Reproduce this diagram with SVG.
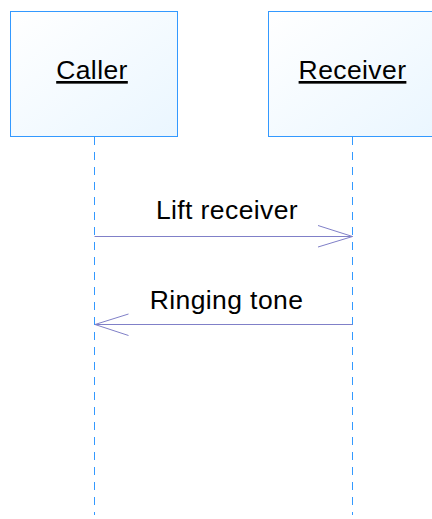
<svg xmlns="http://www.w3.org/2000/svg" width="432" height="519" viewBox="0 0 432 519">
  <style>
    .box { stroke: #3399ff; stroke-width: 1; fill: url(#boxfill); }
    .life { stroke: #3399ff; stroke-width: 1; stroke-dasharray: 8 7; fill: none; }
    .msg { stroke: #8080c8; stroke-width: 1; fill: none; }
    .label { font-family: "Liberation Sans", Arial, sans-serif; font-size: 26.5px; fill: #000; text-anchor: middle; letter-spacing: 0.4px; }
    .name { text-decoration: underline; }
  </style>
  <defs>
    <linearGradient id="boxfill" x1="0" y1="0" x2="1" y2="1">
      <stop offset="0" stop-color="#ffffff"/>
      <stop offset="1" stop-color="#eaf6ff"/>
    </linearGradient>
  </defs>

  <g id="caller">
    <rect class="box" x="10.5" y="11.5" width="167" height="125"/>
    <text class="label name" x="92" y="79">Caller</text>
    <line class="life" x1="94.5" y1="137" x2="94.5" y2="515"/>
  </g>

  <g id="receiver">
    <rect class="box" x="268.5" y="11.5" width="170" height="125"/>
    <text class="label name" x="352.5" y="79">Receiver</text>
    <line class="life" x1="352.5" y1="137" x2="352.5" y2="515"/>
  </g>

  <g id="connectors">
    <g id="lift-receiver">
      <line class="msg" x1="94.5" y1="236.5" x2="352.5" y2="236.5"/>
      <polyline class="msg" points="318,225.5 352.5,236.5 318,247"/>
      <text class="label" x="227" y="219">Lift receiver</text>
    </g>
    <g id="ringing-tone">
      <line class="msg" x1="352.5" y1="324.5" x2="95" y2="324.5"/>
      <polyline class="msg" points="128.5,314 95,324.5 128.5,335.5"/>
      <text class="label" x="226.5" y="309">Ringing tone</text>
    </g>
  </g>
</svg>
